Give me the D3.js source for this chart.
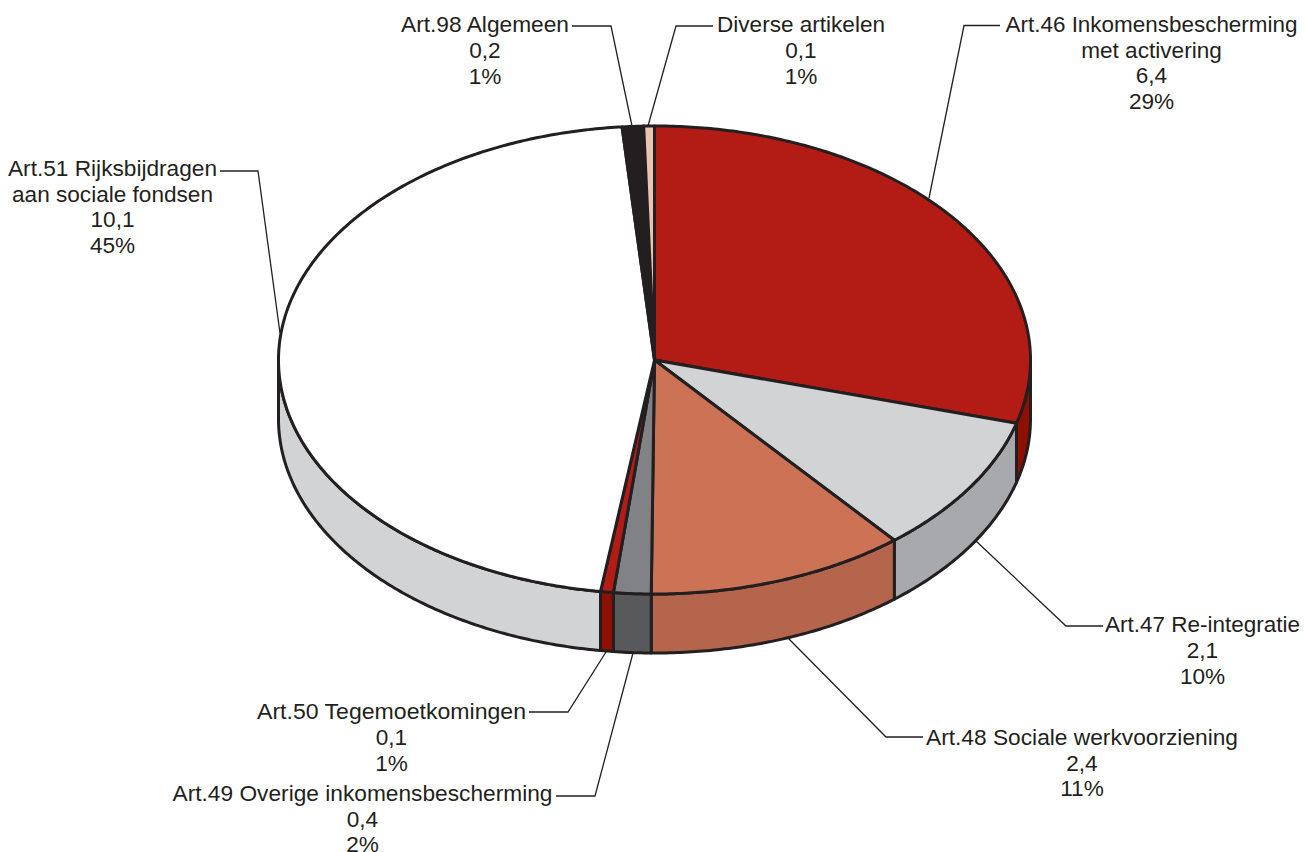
<!DOCTYPE html>
<html><head><meta charset="utf-8">
<script src="https://cdn.jsdelivr.net/npm/d3@7/dist/d3.min.js"></script>
<style>html,body{margin:0;background:#fff}svg{display:block}</style></head>
<body><script>
const names = [["Art.46 Inkomensbescherming","met activering"],["Art.47 Re-integratie"],["Art.48 Sociale werkvoorziening"],["Art.49 Overige inkomensbescherming"],["Art.50 Tegemoetkomingen"],["Art.51 Rijksbijdragen","aan sociale fondsen"],["Art.98 Algemeen"],["Diverse artikelen"]];
const values = [6.4,2.1,2.43,0.35,0.12,10.1,0.2,0.1];
const valueLabels = ["6,4","2,1","2,4","0,4","0,1","10,1","0,2","0,1"];
const percentLabels = ["29%","10%","11%","2%","1%","45%","1%","1%"];
const topColors = ["#b31c14","#d1d3d4","#cc7355","#808285","#b31c14","#ffffff","#231f20","#eac4b2"];
const sideColors = ["#8f1000","#a7a9ac","#b5654c","#58595b","#8f1000","#d1d3d4","#231f20","#eac4b2"];

// layout (not data)
const W=1305,H=852,cx=654.5,cy=360,rx=376,ry=234,depth=59;
const labelX=[1151.5,1202.5,1082,362.5,391.5,112.5,485,801];
const labelY=[24,624.5,737,793,711.5,168,24.5,24.5];
const firstLineWidth=[292,195,312,380,269,209,168,168];
const lineH=25.7;
const leaders=[
 [[1000,25.5],[964,25.5],[929,198]],
 [[1103,626],[1066,626],[976,541]],
 [[923,737],[886,737],[788,638]],
 [[556,796],[595,796],[633,653]],
 [[529,712],[568,712],[606,652]],
 [[220,171],[258,171],[280,333]],
 [[572,26],[611,26],[632,126]],
 [[713,26],[676,26],[648,126]]
];

const svg=d3.select("body").append("svg").attr("width",W).attr("height",H);
const x=d3.scaleLinear().domain([-1,1]).range([cx-rx,cx+rx]);
const y=d3.scaleLinear().domain([-1,1]).range([cy-ry,cy+ry]);
const arcs=d3.pie().sort(null).value(d=>d)(values);
const line=d3.line();
const rim=(a,dy=0)=>[x(Math.sin(a)),y(-Math.cos(a))+dy];
const sample=(a0,a1,dy=0)=>{
  const n=Math.max(2,Math.ceil(Math.abs(a1-a0)/0.01));
  return d3.range(n+1).map(i=>rim(a0+(a1-a0)*i/n,dy));
};
const ink="#231f20";

// side walls: only the front half of the disc shows
const front=[Math.PI/2,Math.PI*1.5];
svg.append("g").selectAll("path").data(arcs.filter(d=>d.endAngle>front[0]&&d.startAngle<front[1])).join("path")
  .attr("d",d=>{
    const a0=Math.max(d.startAngle,front[0]),a1=Math.min(d.endAngle,front[1]);
    return line([...sample(a0,a1,0),...sample(a1,a0,depth)])+"Z";
  })
  .attr("fill",d=>sideColors[d.index]).attr("stroke",ink).attr("stroke-width",3).attr("stroke-linejoin","round");

// top wedges
svg.append("g").selectAll("path").data(arcs).join("path")
  .attr("d",d=>line([[cx,cy],...sample(d.startAngle,d.endAngle)])+"Z")
  .attr("fill",d=>topColors[d.index]).attr("stroke",ink).attr("stroke-width",3).attr("stroke-linejoin","round");

// leader lines
svg.append("g").selectAll("path").data(leaders).join("path")
  .attr("d",d=>line(d)).attr("fill","none").attr("stroke",ink).attr("stroke-width",1.3);

// labels
const fs=22.6;
const lab=svg.append("g").attr("font-family","'Liberation Sans',Arial,sans-serif").attr("font-size",fs).attr("fill",ink).attr("text-anchor","middle");
names.forEach((nm,i)=>{
  [...nm,valueLabels[i],percentLabels[i]].forEach((t,j)=>{
    const el=lab.append("text").attr("x",labelX[i]).attr("y",labelY[i]+j*lineH).attr("dy","0.35em").text(t);
    if(j===0) el.attr("textLength",firstLineWidth[i]).attr("lengthAdjust","spacingAndGlyphs");
  });
});
</script></body></html>
